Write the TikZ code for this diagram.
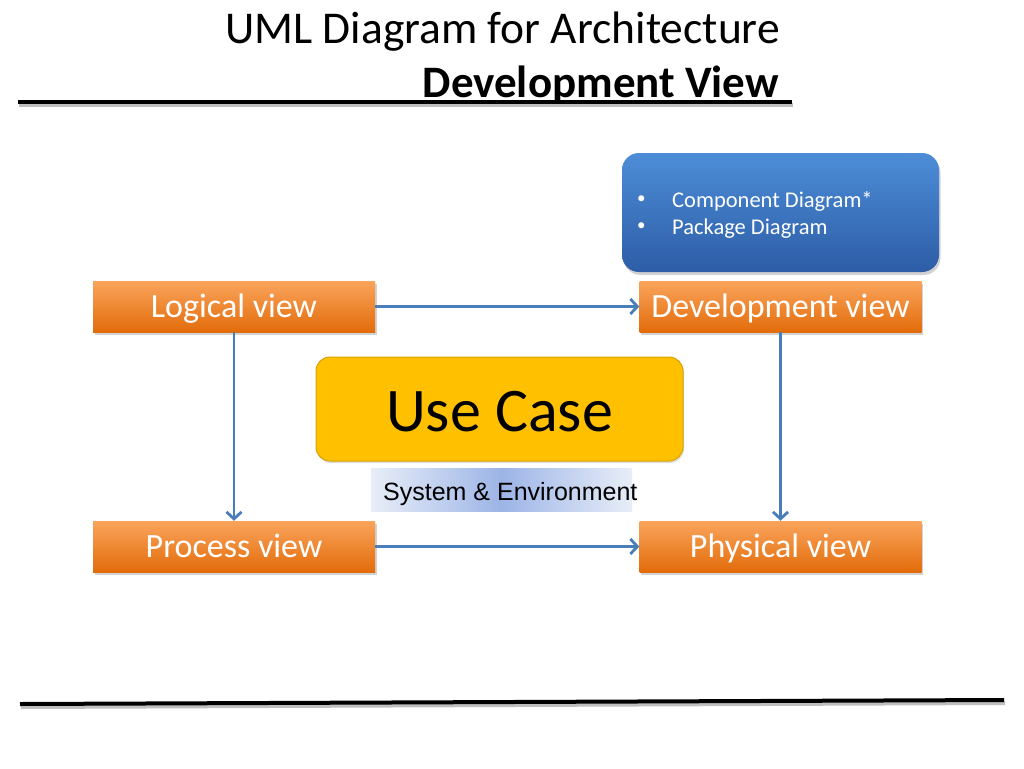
\documentclass[tikz,border=0pt]{standalone}
\usepackage{fontspec}
\setmainfont{Carlito}
\newfontfamily\arialfont{Liberation Sans}
\usetikzlibrary{arrows.meta,shadows,positioning}
\definecolor{orangetop}{HTML}{F9A45C}
\definecolor{orangebot}{HTML}{E36C0A}
\definecolor{bluetop}{HTML}{4D8DD8}
\definecolor{bluebot}{HTML}{2D5DA6}
\definecolor{arrowblue}{HTML}{4A7EBB}
\definecolor{gold}{HTML}{FFC000}
\definecolor{golddark}{HTML}{D9A300}
\definecolor{sysmid}{HTML}{9CB4E6}
\definecolor{sysedge}{HTML}{E8EEF8}
\newcommand{\mybullet}{\makebox[35pt][l]{\raisebox{3.5pt}{\fontsize{17}{17}\selectfont •}}}
\begin{document}
\begin{tikzpicture}[x=1pt,y=-1pt,
  viewbox/.style={rectangle, minimum width=282pt, minimum height=51pt, inner sep=0pt,
    top color=orangetop, bottom color=orangebot, draw=none,
    text=white, font=\fontsize{34}{38}\selectfont, text height=28pt, text depth=6pt,
    drop shadow={opacity=0.35, shadow xshift=1.5pt, shadow yshift=-2.5pt}},
  conn/.style={draw=arrowblue, line width=2.8pt, -{Straight Barb[length=7pt,width=15pt,line width=2.8pt]}},
  rule/.style={line width=4pt, black},
  ruleshadow/.style={line width=4pt, black!25}
]
\useasboundingbox[fill=white] (0,0) rectangle (1024,768);

% title
\node[anchor=base east, inner sep=0pt, font=\fontsize{45.5}{50}\selectfont] (title1) at (780,44) {UML Diagram for Architecture};
\node[anchor=base east, inner sep=0pt, font=\fontsize{45}{50}\selectfont\bfseries] (title2) at (779,97) {Development View};

% rules
\coordinate (r1a) at (18,102);
\coordinate (r1b) at (792,102);
\draw[ruleshadow] ([shift={(1,3)}]r1a) -- ([shift={(1,3)}]r1b);
\draw[rule] (r1a) -- (r1b);
\coordinate (r2a) at (20,704);
\coordinate (r2b) at (1004,700);
\draw[ruleshadow] ([shift={(1,3)}]r2a) -- ([shift={(1,3)}]r2b);
\draw[rule] (r2a) -- (r2b);

% blue box
\node[rectangle, rounded corners=17pt, minimum width=317pt, minimum height=119pt, inner sep=0pt,
  top color=bluetop, bottom color=bluebot, draw=none,
  drop shadow={opacity=0.35, shadow xshift=1.5pt, shadow yshift=-3pt}] (blue) at (780.5,212.5) {};
\node[anchor=base west, inner sep=0pt, text=white, align=left, font=\fontsize{22.5}{27}\selectfont] (bullets) at (637,234)
  {\mybullet Component Diagram*\\\mybullet Package Diagram};

% view boxes
\node[viewbox] (logical) at (234,306.5) {Logical view};
\node[viewbox] (dev) at (780.5,306.5) {Development view};
\node[viewbox] (process) at (234,546.5) {Process view};
\node[viewbox] (physical) at (780.5,546.5) {Physical view};

% use case
\node[rectangle, rounded corners=14pt, minimum width=367pt, minimum height=104pt, inner sep=0pt,
  fill=gold, draw=golddark, line width=1pt, text height=44pt, text depth=0pt,
  drop shadow={opacity=0.25, shadow xshift=1pt, shadow yshift=-2pt},
  font=\fontsize{62}{68}\selectfont] (usecase) at (499.5,409) {Use Case};

% system & environment
\node[rectangle, minimum width=261pt, minimum height=43pt, inner sep=0pt,
  left color=sysedge, right color=sysedge, middle color=sysmid, draw=none] (sysbox) at (501.5,489.5) {};
\node[anchor=base west, inner sep=0pt, font=\arialfont\fontsize{25}{29}\selectfont] (systext) at (383,500) {System \& Environment};

% connectors
\draw[conn] (logical.east) -- (dev.west);
\draw[conn] (logical.south) -- (process.north);
\draw[conn] (dev.south) -- (physical.north);
\draw[conn] (process.east) -- (physical.west);
\end{tikzpicture}
\end{document}
